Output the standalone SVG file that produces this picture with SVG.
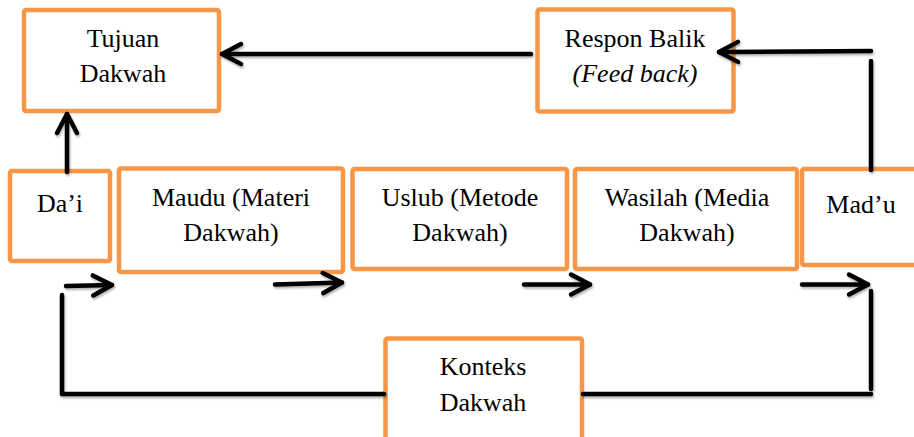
<svg xmlns="http://www.w3.org/2000/svg" width="914" height="437" viewBox="0 0 914 437">
<defs>
<style>
.box{fill:#fff;stroke:#F79646;stroke-width:4.5;stroke-linejoin:round}
.t{font-family:"Liberation Serif","Times New Roman",serif;font-size:26px;fill:#000;text-anchor:middle}
.ln{stroke:#000;stroke-width:4.5;stroke-linecap:round;fill:none}
</style>
<filter id="sh" x="-10%" y="-10%" width="120%" height="120%">
<feDropShadow dx="1" dy="2" stdDeviation="1" flood-color="#000" flood-opacity="0.3"/>
</filter>
<marker id="ah" markerUnits="userSpaceOnUse" viewBox="-25 -15 30 30" refX="0" refY="0" markerWidth="30" markerHeight="30" orient="auto" overflow="visible">
<path d="M-19,-10 L0,0 L-19,10" fill="none" stroke="#000" stroke-width="4.5" stroke-linecap="round" stroke-linejoin="round"/>
</marker>
</defs>
<rect width="914" height="437" fill="#fff"/>
<g id="tujuan"><rect class="box" x="24" y="10" width="195" height="101" rx="2"/>
<text class="t" x="123" y="47">Tujuan</text><text class="t" x="123" y="82">Dakwah</text></g>
<g id="respon"><rect class="box" x="537.5" y="9.5" width="196" height="102" rx="2"/>
<text class="t" x="635" y="47">Respon Balik</text><text class="t" x="635" y="82" font-style="italic">(Feed back)</text></g>
<g id="dai"><rect class="box" x="10" y="171" width="100" height="90" rx="2"/>
<text class="t" x="60" y="212">Da’i</text></g>
<g id="maudu"><rect class="box" x="119" y="168.5" width="224" height="103.5" rx="2"/>
<text class="t" x="231" y="206">Maudu (Materi</text><text class="t" x="231" y="241">Dakwah)</text></g>
<g id="uslub"><rect class="box" x="352.5" y="169" width="214.5" height="100" rx="2"/>
<text class="t" x="460" y="206">Uslub (Metode</text><text class="t" x="460" y="241">Dakwah)</text></g>
<g id="wasilah"><rect class="box" x="575" y="169" width="222" height="100" rx="2"/>
<text class="t" x="687" y="206">Wasilah (Media</text><text class="t" x="687" y="241">Dakwah)</text></g>
<g id="madu"><rect class="box" x="802" y="169" width="125" height="96" rx="2"/>
<text class="t" x="861" y="213">Mad’u</text></g>
<g id="konteks"><rect class="box" x="385.5" y="338.5" width="196.5" height="115" rx="2"/>
<text class="t" x="483" y="375">Konteks</text><text class="t" x="483" y="411">Dakwah</text></g>
<g id="connectors" filter="url(#sh)">
<line class="ln" x1="531" y1="54" x2="222" y2="54" marker-end="url(#ah)"/>
<line class="ln" x1="871" y1="51" x2="719" y2="52" marker-end="url(#ah)"/>
<line class="ln" x1="871" y1="61" x2="871" y2="170"/>
<line class="ln" x1="67" y1="172" x2="67" y2="114" marker-end="url(#ah)"/>
<line class="ln" x1="66" y1="286" x2="112" y2="285" marker-end="url(#ah)"/>
<line class="ln" x1="275" y1="284.5" x2="342" y2="282.5" marker-end="url(#ah)"/>
<line class="ln" x1="524" y1="284.5" x2="590" y2="284.5" marker-end="url(#ah)"/>
<line class="ln" x1="802" y1="284.5" x2="868" y2="284.5" marker-end="url(#ah)"/>
<line class="ln" x1="62" y1="295" x2="62" y2="394"/>
<line class="ln" x1="871" y1="291" x2="871" y2="389"/>
<line class="ln" x1="62" y1="394" x2="384" y2="394"/>
<line class="ln" x1="583" y1="394" x2="871" y2="394"/>
</g>
</svg>
